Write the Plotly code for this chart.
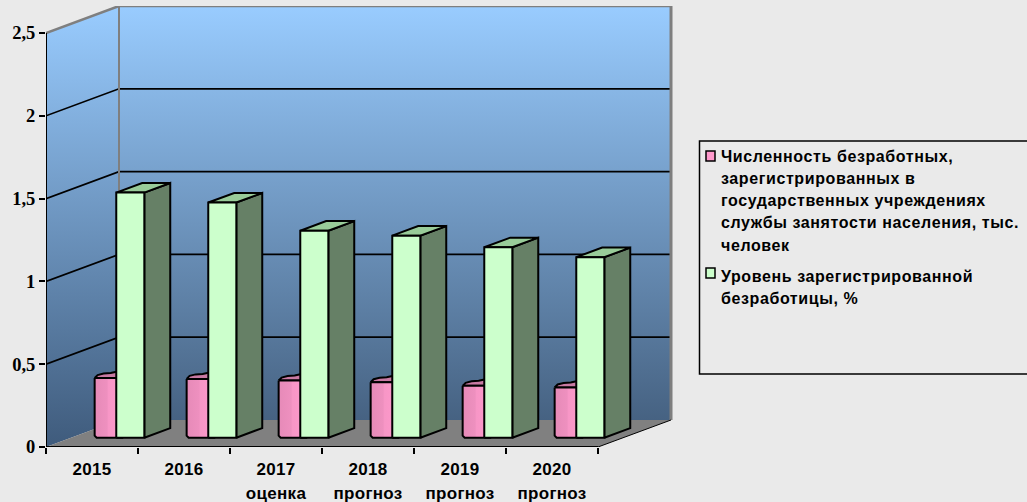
import plotly.graph_objects as go

categories = ["2015", "2016", "2017", "2018", "2019", "2020"]
category_notes = ["", "", "оценка", "прогноз", "прогноз", "прогноз"]
unemployed_values = [0.36, 0.355, 0.345, 0.335, 0.313, 0.303]
rate_values = [1.48, 1.42, 1.25, 1.22, 1.15, 1.09]
y_ticks = [0, 0.5, 1, 1.5, 2, 2.5]
y_labels = ["0", "0,5", "1", "1,5", "2", "2,5"]
series_names = [
    "Численность безработных,<br>зарегистрированных в<br>государственных учреждениях<br>службы занятости населения, тыс.<br>человек",
    "Уровень зарегистрированной<br>безработицы, %",
]
series_colors = ["#FF99CC", "#CCFFCC"]

PW, PH = 1027, 502
L, R, T, B = 46, 352, 6, 55
UX, UY = 92.0, 165.6          # px per category, px per value unit
XMAX = (PW - L - R) / UX
YMAX = (PH - T - B) / UY
DX, DY = 73 / UX, 27 / UY     # full floor depth in data units
BAR_D0 = 0.345                # bar front as a share of the depth
BAR_D1 = 0.70                 # bar back as a share of the depth
GREEN_X0, BAR_W = 0.49, 0.305
PINK_X0, PINK_VISIBLE = 0.255, 0.30


def paper_x(p):
    return (p - L) / (PW - L - R)


def paper_y(p):
    return 1 - (p - T) / (PH - T - B)


fig = go.Figure()


def poly(xs, ys, fill=None, line="black", width=2, gradient=None):
    kw = dict(fill="toself") if (fill or gradient) else {}
    if fill:
        kw["fillcolor"] = fill
    if gradient:
        kw["fillgradient"] = gradient
    fig.add_trace(go.Scatter(
        x=xs, y=ys, mode="lines", line=dict(color=line, width=width),
        hoverinfo="skip", showlegend=False, cliponaxis=False, **kw))


grad_back = dict(type="vertical", start=YMAX, stop=DY, colorscale=[[0, "#99CCFF"], [1, "#466282"]])
grad_side = dict(type="vertical", start=YMAX, stop=0, colorscale=[[0, "#99CCFF"], [1, "#3F5B7C"]])

# side wall, back wall, floor
poly([0, DX, DX, 0, 0], [y_ticks[-1], YMAX, DY, 0, y_ticks[-1]], gradient=grad_side, line="rgba(0,0,0,0)", width=0)
poly([DX, DX + 6, DX + 6, DX, DX], [DY, DY, YMAX, YMAX, DY], gradient=grad_back, line="rgba(0,0,0,0)", width=0)
poly([0, 6, 6 + DX, DX, 0], [0, 0, DY, DY, 0], fill="#808080", line="rgba(0,0,0,0)", width=0)

# gridlines
for v in y_ticks[1:-1]:
    poly([0, DX, DX + 6], [v, v + DY, v + DY], width=1.7)
GRAY = "#7F7F7F"
poly([0, DX, DX + 6], [2.5, 2.5 + DY, 2.5 + DY], line=GRAY, width=2.5)
poly([DX, DX], [DY, 2.5 + DY], line=GRAY, width=2)
poly([DX + 6, DX + 6], [DY, 2.5 + DY], line=GRAY, width=3)
poly([6, 6 + DX], [0, DY], width=1)
poly([0, 0], [0, 2.5], width=2)
poly([0, 6], [0, 0], width=2)

# bars
sx0, sy0 = DX * BAR_D0, DY * BAR_D0
sx1, sy1 = DX * BAR_D1, DY * BAR_D1
px = 1 / UX
py = 1 / UY
pink_grad = dict(type="horizontal", colorscale=[[0, "#E68AB8"], [0.45, "#EE90BF"], [0.5, "#F796C6"], [1, "#FF99CC"]])
for i, (pink, green) in enumerate(zip(unemployed_values, rate_values)):
    # pink cylinder
    a = i + PINK_X0 + sx0
    b = a + PINK_VISIBLE
    top = pink + sy0
    poly([a, a + 3 * px, a + 9 * px, a + 16 * px, b, b, a, a],
         [top, top + 3 * py, top + 4.5 * py, top + 5 * py, top + 7.5 * py, top, top, top],
         fill="#C97AA3")
    poly([a, b, b, a + 2 * px, a, a],
         [top, top, sy0, sy0, sy0 + 2 * py, top], gradient=pink_grad)
    # green box
    g0 = i + GREEN_X0 + sx0
    g1 = g0 + BAR_W
    gt = green + sy0
    poly([g1, g1 + sx1 - sx0, g1 + sx1 - sx0, g1, g1], [sy0, sy1, green + sy1, gt, sy0], fill="#668066")
    poly([g0, g1, g1 + sx1 - sx0, g0 + sx1 - sx0, g0], [gt, gt, green + sy1, green + sy1, gt], fill="#99CC99")
    poly([g0, g1, g1, g0, g0], [sy0, sy0, gt, gt, sy0], fill="#CCFFCC")

# legend entries; the swatches sit closer to the text than a legend symbol can, so they are shapes
for k, name in enumerate(series_names):
    fig.add_trace(go.Scatter(
        x=[None], y=[None], mode="markers", legendgroup=str(k),
        name='<span style="font-size:16px;letter-spacing:0.6px">' + name + "</span>",
        marker=dict(symbol="square", size=1, color="rgba(0,0,0,0)", line=dict(width=0))))

ticktext = [f'<span style="font-size:17px;letter-spacing:0.3px">{c}<br>{n}</span>' if n
            else f'<span style="font-size:17px;letter-spacing:0.3px">{c}</span>'
            for c, n in zip(categories, category_notes)]

shapes = [dict(type="rect", xref="paper", yref="paper",
               x0=paper_x(699.5), x1=paper_x(1040), y0=paper_y(374), y1=paper_y(141),
               line=dict(color="black", width=1.5), fillcolor="rgba(0,0,0,0)")]
for color, y0 in zip(series_colors, [151, 268]):
    shapes.append(dict(type="rect", xref="paper", yref="paper",
                       x0=paper_x(706), x1=paper_x(715), y0=paper_y(y0 + 10), y1=paper_y(y0),
                       line=dict(color="black", width=1.5), fillcolor=color))

fig.update_layout(
    width=PW, height=PH,
    margin=dict(l=L, r=R, t=T, b=B, autoexpand=False),
    paper_bgcolor="#EAEAEA", plot_bgcolor="rgba(0,0,0,0)",
    xaxis=dict(
        range=[0, XMAX], showgrid=False, zeroline=False, showline=False,
        tickmode="array", tickvals=[i + 0.5 for i in range(6)], ticktext=ticktext,
        ticks="", ticklabelstandoff=8,
        tickfont=dict(family="Liberation Sans", size=18.5, color="black", weight="bold"),
        minor=dict(tickmode="array", tickvals=list(range(7)), ticks="outside", ticklen=6, tickwidth=2, tickcolor="black"),
    ),
    yaxis=dict(
        range=[0, YMAX], showgrid=False, zeroline=False, showline=False,
        tickmode="array", tickvals=y_ticks, ticktext=y_labels,
        ticks="outside", ticklen=6, tickwidth=2, tickcolor="black",
        tickfont=dict(family="Liberation Serif", size=18.5, color="black", weight="bold"),
    ),
    legend=dict(
        x=paper_x(696), y=paper_y(138), xanchor="left", yanchor="top",
        bgcolor="rgba(0,0,0,0)", font=dict(family="Liberation Sans", size=17, color="black", weight="bold"),
        indentation=-15, tracegroupgap=6, valign="top",
    ),
    shapes=shapes,
)
fig.write_html("out.html", config=dict(displayModeBar=False), post_script="document.body.style.margin='0';")
